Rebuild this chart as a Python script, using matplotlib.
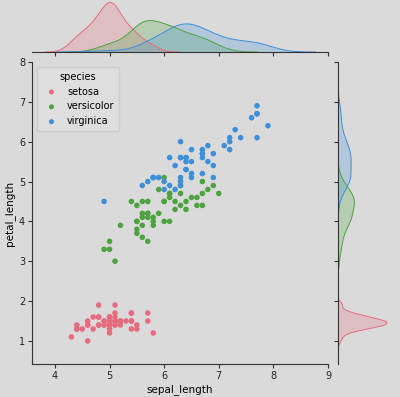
import numpy as np
import matplotlib
matplotlib.use('Agg')
import matplotlib.pyplot as plt

species = ['setosa', 'versicolor', 'virginica']
colors = ['#e66b7e', '#4da33f', '#3d8fda']

sepal_length = {
    'setosa': [5.1, 4.9, 4.7, 4.6, 5.0, 5.4, 4.6, 5.0, 4.4, 4.9, 5.4, 4.8, 4.8, 4.3, 5.8, 5.7, 5.4, 5.1, 5.7, 5.1,
               5.4, 5.1, 4.6, 5.1, 4.8, 5.0, 5.0, 5.2, 5.2, 4.7, 4.8, 5.4, 5.2, 5.5, 4.9, 5.0, 5.5, 4.9, 4.4, 5.1,
               5.0, 4.5, 4.4, 5.0, 5.1, 4.8, 5.1, 4.6, 5.3, 5.0],
    'versicolor': [7.0, 6.4, 6.9, 5.5, 6.5, 5.7, 6.3, 4.9, 6.6, 5.2, 5.0, 5.9, 6.0, 6.1, 5.6, 6.7, 5.6, 5.8, 6.2, 5.6,
                   5.9, 6.1, 6.3, 6.1, 6.4, 6.6, 6.8, 6.7, 6.0, 5.7, 5.5, 5.5, 5.8, 6.0, 5.4, 6.0, 6.7, 6.3, 5.6, 5.5,
                   5.5, 6.1, 5.8, 5.0, 5.6, 5.7, 5.7, 6.2, 5.1, 5.7],
    'virginica': [6.3, 5.8, 7.1, 6.3, 6.5, 7.6, 4.9, 7.3, 6.7, 7.2, 6.5, 6.4, 6.8, 5.7, 5.8, 6.4, 6.5, 7.7, 7.7, 6.0,
                  6.9, 5.6, 7.7, 6.3, 6.7, 7.2, 6.2, 6.1, 6.4, 7.2, 7.4, 7.9, 6.4, 6.3, 6.1, 7.7, 6.3, 6.4, 6.0, 6.9,
                  6.7, 6.9, 5.8, 6.8, 6.7, 6.7, 6.3, 6.5, 6.2, 5.9],
}
petal_length = {
    'setosa': [1.4, 1.4, 1.3, 1.5, 1.4, 1.7, 1.4, 1.5, 1.4, 1.5, 1.5, 1.6, 1.4, 1.1, 1.2, 1.5, 1.3, 1.4, 1.7, 1.5,
               1.7, 1.5, 1.0, 1.7, 1.9, 1.6, 1.6, 1.5, 1.4, 1.6, 1.6, 1.5, 1.5, 1.4, 1.5, 1.2, 1.3, 1.4, 1.3, 1.5,
               1.3, 1.3, 1.3, 1.6, 1.9, 1.4, 1.6, 1.4, 1.5, 1.4],
    'versicolor': [4.7, 4.5, 4.9, 4.0, 4.6, 4.5, 4.7, 3.3, 4.6, 3.9, 3.5, 4.2, 4.0, 4.7, 3.6, 4.4, 4.5, 4.1, 4.5, 3.9,
                   4.8, 4.0, 4.9, 4.7, 4.3, 4.4, 4.8, 5.0, 4.5, 3.5, 3.8, 3.7, 3.9, 5.1, 4.5, 4.5, 4.7, 4.4, 4.1, 4.0,
                   4.4, 4.6, 4.0, 3.3, 4.2, 4.2, 4.2, 4.3, 3.0, 4.1],
    'virginica': [6.0, 5.1, 5.9, 5.6, 5.8, 6.6, 4.5, 6.3, 5.8, 6.1, 5.1, 5.3, 5.5, 5.0, 5.1, 5.3, 5.5, 6.7, 6.9, 5.0,
                  5.7, 4.9, 6.7, 4.9, 5.7, 6.0, 4.8, 4.9, 5.6, 5.8, 6.1, 6.4, 5.6, 5.1, 5.6, 6.1, 5.6, 5.5, 4.8, 5.4,
                  5.6, 5.1, 5.1, 5.9, 5.7, 5.2, 5.0, 5.2, 5.4, 5.1],
}


def kde(values, total):
    # gaussian kde, scott bandwidth, cut=3, scaled like common_norm
    v = np.asarray(values)
    bw = v.std(ddof=1) * len(v) ** (-1 / 5)
    grid = np.linspace(v.min() - 3 * bw, v.max() + 3 * bw, 200)
    dens = np.exp(-0.5 * ((grid[:, None] - v[None, :]) / bw) ** 2).sum(axis=1)
    dens /= (len(v) * bw * np.sqrt(2 * np.pi))
    return grid, dens * len(v) / total


bg = '#dadada'
plt.rcParams['font.size'] = 7
plt.rcParams['axes.linewidth'] = 0.8
plt.rcParams['axes.edgecolor'] = '#333333'

fig = plt.figure(figsize=(4, 3.97), dpi=100)
fig.patch.set_facecolor(bg)
ax = fig.add_axes([0.08, 0.083, 0.74, 0.761])
ax_top = fig.add_axes([0.08, 0.869, 0.74, 0.131], sharex=ax)
ax_right = fig.add_axes([0.845, 0.083, 0.155, 0.761], sharey=ax)

total = sum(len(sepal_length[s]) for s in species)
right_max = 0
for sp, c in zip(species, colors):
    ax.scatter(sepal_length[sp], petal_length[sp], s=16, color=c, edgecolors='none', label=sp, zorder=3)
    gx, dx = kde(sepal_length[sp], total)
    ax_top.fill_between(gx, 0, dx, facecolor=c, alpha=0.25, edgecolor='none')
    ax_top.plot(gx, dx, color=c, lw=0.7)
    gy, dy = kde(petal_length[sp], total)
    ax_right.fill_betweenx(gy, 0, dy, facecolor=c, alpha=0.25, edgecolor='none')
    ax_right.plot(dy, gy, color=c, lw=0.7)
    right_max = max(right_max, dy.max())

for a in (ax, ax_top, ax_right):
    a.set_facecolor(bg)
    a.spines['top'].set_visible(False)
    a.spines['right'].set_visible(False)
    a.tick_params(length=3, width=0.8, pad=2, colors='#333333', labelcolor='#222222')

ax.set_xlim(3.58, 9.0)
ax.set_ylim(0.42, 8.0)
ax.set_xlabel('sepal_length', fontsize=7.5, labelpad=2)
ax.set_ylabel('petal_length', fontsize=7.5, labelpad=3)

ax_top.set_ylim(0, None)
ax_top.spines['left'].set_visible(False)
ax_top.tick_params(axis='x', labelbottom=False)
ax_top.tick_params(axis='y', left=False, labelleft=False)

ax_right.set_xlim(0, right_max * 1.265)
ax_right.spines['bottom'].set_visible(False)
ax_right.tick_params(axis='y', labelleft=False)
ax_right.tick_params(axis='x', bottom=False, labelbottom=False)

leg = ax.legend(title='species', loc='upper left', fontsize=7, title_fontsize=7,
                markerscale=0.9, handletextpad=0.6, borderpad=0.5, labelspacing=0.5)
leg.get_frame().set_facecolor('#e0e0e0')
leg.get_frame().set_edgecolor('#c8c8c8')

plt.savefig('out.png', dpi=100, facecolor=bg)
